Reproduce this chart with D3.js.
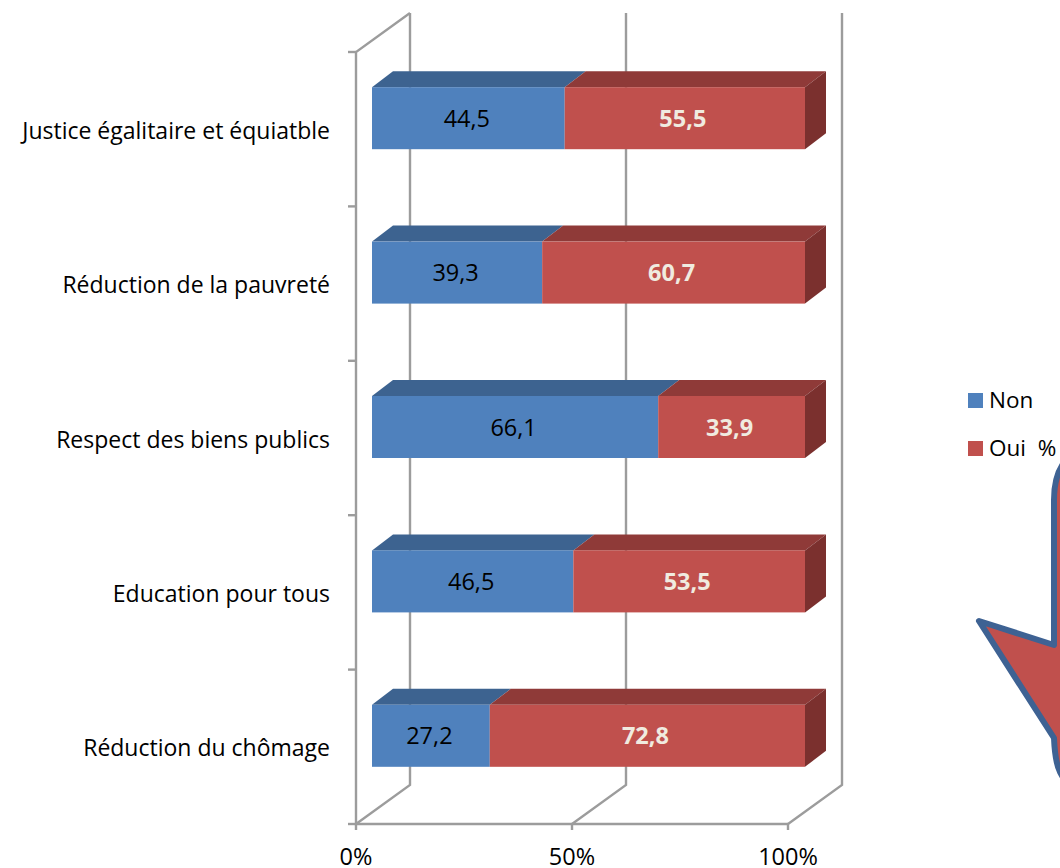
<!DOCTYPE html>
<html><head><meta charset="utf-8">
<script src="https://cdn.jsdelivr.net/npm/d3@7"></script>
<style>html,body{margin:0;padding:0;background:#fff}svg{display:block}text{font-family:"Open Sans",Lato,sans-serif}</style>
</head><body><svg id="c" width="1060" height="868"></svg>
<script>
const categories = ["Justice égalitaire et équiatble","Réduction de la pauvreté","Respect des biens publics","Education pour tous","Réduction du chômage"];
const nonValues = [44.5,39.3,66.1,46.5,27.2];
const ouiValues = [55.5,60.7,33.9,53.5,72.8];
const xTicks = [0,50,100];
const seriesNames = ["Non","Oui  %"];
const seriesColors = ["#4f81bd","#c0504d"];
const sideColors = ["#3d6390","#8f3a38"];
const endColor = "#7b302e";

const svg = d3.select("#c");
const gridColor = "#9c9c9c";
const frameTop=52,frameBottom=824,depthX=54,depthY=39;
const x = d3.scaleLinear().domain([0,100]).range([356,788]);
const y = d3.scaleBand().domain(categories).range([frameTop,frameBottom]);
const barX = d3.scaleLinear().domain([0,100]).range([372,805]);
const barDX=21, barDY=16, barH=62, barShift=-11;

const grid = svg.append("g").attr("fill","none").attr("stroke",gridColor).attr("stroke-width",2.4);
xTicks.forEach(t=>{
  const px=x(t);
  grid.append("path").attr("d",d3.line()([[px,frameBottom],[px+depthX,frameBottom-depthY],[px+depthX,frameTop-depthY]]));
  grid.append("line").attr("x1",px).attr("x2",px).attr("y1",frameBottom).attr("y2",frameBottom+6);
});
grid.append("path").attr("d",d3.line()([[x(0)+depthX,frameTop-depthY],[x(0),frameTop],[x(0),frameBottom],[x(100),frameBottom]]));
const yEdges = categories.map(c=>y(c)).concat([frameBottom]);
yEdges.forEach(v=>grid.append("line").attr("x1",x(0)-8).attr("x2",x(0)).attr("y1",v).attr("y2",v));

svg.append("g").selectAll("text").data(xTicks).join("text")
  .attr("x",d=>x(d)).attr("y",865).attr("text-anchor","middle")
  .attr("font-size",23.5).attr("fill","#000").text(d=>d+"%");

svg.append("g").selectAll("text").data(categories).join("text")
  .attr("x",330).attr("y",c=>y(c)+y.bandwidth()/2+9.5).attr("text-anchor","end")
  .attr("font-size",23).attr("fill","#000").text(c=>c);

const bars = svg.append("g");
categories.forEach((c,i)=>{
  const y0=y(c)+y.bandwidth()/2-barH/2+barShift, y1=y0+barH;
  let start=0;
  [nonValues[i],ouiValues[i]].forEach((v,s)=>{
    const a=barX(start), b=barX(start+v);
    const g=bars.append("g");
    g.append("path").attr("fill",sideColors[s])
      .attr("d",d3.line()([[a,y0],[a+barDX,y0-barDY],[b+barDX,y0-barDY],[b,y0]])+"Z");
    if(s===1) g.append("path").attr("fill",endColor)
      .attr("d",d3.line()([[b,y0],[b+barDX,y0-barDY],[b+barDX,y1-barDY],[b,y1]])+"Z");
    g.append("rect").attr("x",a).attr("y",y0).attr("width",b-a).attr("height",barH).attr("fill",seriesColors[s]);
    g.append("text").attr("x",(a+b)/2-(s?2:1.5)).attr("y",(y0+y1)/2+8.5).attr("text-anchor","middle")
      .attr("font-size",23.5).attr("font-weight",s?700:400).attr("fill",s?"#f0ebe0":"#000")
      .text(String(v).replace(".",","));
    start+=v;
  });
});

const legend=svg.append("g");
seriesNames.forEach((n,i)=>{
  const ly=400.5+i*48;
  legend.append("rect").attr("x",968).attr("y",ly-7.5).attr("width",15).attr("height",15).attr("fill",seriesColors[i]);
  legend.append("text").attr("x",989).attr("y",ly+7.5).attr("font-size",22.5).style("white-space","pre").text(n);
});

// decorative callout arrow running off the right edge
svg.append("path")
  .attr("d","M979,621 L1054,645 L1054,500 Q1054,470 1070,456 L1075,800 L1060,772 Q1055,762 1054,738 Z")
  .attr("fill","#c0504d").attr("stroke","#3e6293").attr("stroke-width",6).attr("stroke-linejoin","round");
</script></body></html>
